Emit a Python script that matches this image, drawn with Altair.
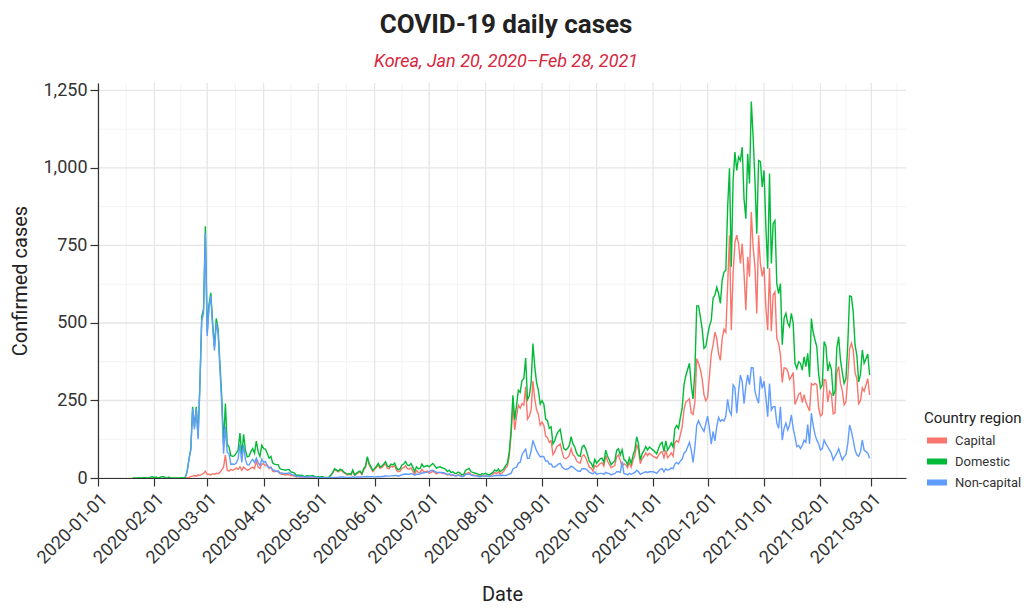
import altair as alt
import pandas as pd

TITLE = "COVID-19 daily cases"
SUBTITLE = "Korea, Jan 20, 2020\u2013Feb 28, 2021"
SERIES = ["Capital", "Domestic", "Non-capital"]
COLORS = ["#F8766D", "#00BA38", "#619CFF"]
FONT = "Roboto, sans-serif"

# daily confirmed cases, each chunk starts at the given date
DOMESTIC = {
    "2020-01-20": [0, 0, 0, 0, 1, 0, 1, 1, 0, 0, 3, 4],
    "2020-02-01": [1, 3, 0, 2, 4, 4, 1, 0, 3, 0, 0, 0, 0, 0, 0, 1, 0,
                   3, 22, 62, 95, 230, 165, 230, 135, 305, 520, 545, 812],
    "2020-03-01": [470, 560, 597, 500, 423, 515, 480, 370, 262, 113, 240, 108, 100, 72, 70, 72,
                   80, 90, 145, 75, 141, 90, 68, 70, 85, 95, 80, 119, 85, 70, 106],
    "2020-04-01": [95, 93, 80, 64, 70, 48, 45, 43, 43, 30, 28, 27, 25, 27, 27, 20, 18, 16, 8, 10,
                   8, 9, 6, 5, 8, 6, 7, 8, 5, 3],
    "2020-05-01": [4, 3, 5, 3, 2, 2, 3, 10, 18, 30, 26, 22, 28, 26, 20, 16, 12, 14, 12, 26,
                   10, 15, 20, 22, 14, 30, 38, 69, 47, 36, 25],
    "2020-06-01": [31, 38, 47, 35, 39, 45, 53, 38, 36, 45, 42, 48, 33, 26, 30, 42, 45, 53, 42, 40,
                   47, 35, 21, 36, 30, 31, 45, 36, 38, 40],
    "2020-07-01": [36, 42, 47, 40, 31, 35, 36, 33, 31, 28, 21, 25, 18, 20, 15, 15, 19, 16, 10, 12,
                   25, 28, 31, 20, 18, 16, 15, 12, 10, 14, 13],
    "2020-08-01": [15, 12, 10, 14, 18, 26, 22, 29, 20, 25, 30, 40, 48, 85, 155, 267, 188, 235, 283, 276,
                   315, 320, 387, 253, 264, 307, 434, 359, 308, 283, 238],
    "2020-09-01": [250, 238, 190, 185, 160, 165, 110, 120, 140, 150, 157, 121, 95, 90, 95, 105, 133, 110, 100, 80,
                   72, 70, 100, 105, 94, 75, 53, 48, 35, 60],
    "2020-10-01": [48, 55, 62, 64, 50, 90, 70, 58, 43, 50, 55, 89, 94, 74, 91, 60, 55, 43, 65, 47,
                   73, 90, 133, 110, 58, 78, 88, 101, 90, 100, 95],
    "2020-11-01": [90, 85, 78, 95, 110, 115, 85, 120, 90, 100, 113, 100, 160, 170, 160, 195, 225, 300, 330, 350,
                   370, 300, 255, 345, 555, 555, 520, 480, 418, 424],
    "2020-12-01": [460, 490, 509, 580, 590, 615, 595, 563, 638, 664, 670, 874, 999, 681, 960, 1051, 992, 1035, 1024, 1067,
                   900, 836, 1046, 950, 1214, 1100, 960, 788, 1024, 1020, 939],
    "2021-01-01": [992, 810, 675, 982, 692, 820, 830, 627, 595, 627, 430, 515, 531, 500, 488, 531, 500, 370, 353, 375,
                   370, 348, 391, 359, 402, 326, 514, 470, 445, 423, 335],
    "2021-02-01": [290, 300, 440, 425, 345, 370, 350, 265, 280, 420, 455, 380, 340, 305, 320, 430, 587, 585, 535, 430,
                   395, 310, 335, 413, 370, 385, 400, 332],
}

CAPITAL = {
    "2020-02-18": [0, 1, 2, 5, 6, 8, 6, 10, 8, 12, 15, 22],
    "2020-03-01": [12, 12, 10, 14, 12, 15, 14, 18, 26, 35, 74, 25, 22, 28, 25, 28,
                   32, 28, 36, 25, 35, 30, 25, 28, 32, 35, 30, 55, 35, 30, 45],
    "2020-04-01": [45, 40, 42, 30, 35, 22, 20, 22, 20, 14, 12, 12, 10, 12, 10, 8, 8, 6, 4, 5,
                   3, 4, 3, 2, 4, 3, 3, 4, 2, 1],
    "2020-05-01": [3, 2, 4, 2, 1, 1, 2, 9, 16, 28, 24, 20, 25, 23, 17, 14, 10, 12, 10, 22,
                   8, 12, 17, 19, 11, 26, 34, 64, 43, 32, 21],
    "2020-06-01": [28, 34, 42, 31, 34, 40, 46, 32, 30, 38, 35, 40, 25, 20, 22, 32, 33, 40, 30, 28,
                   33, 22, 12, 24, 18, 18, 28, 20, 20, 22],
    "2020-07-01": [15, 18, 22, 18, 13, 17, 18, 16, 14, 13, 10, 12, 8, 10, 8, 8, 10, 9, 5, 6,
                   14, 16, 18, 11, 10, 9, 8, 7, 6, 8, 7],
    "2020-08-01": [8, 6, 5, 8, 12, 18, 14, 20, 12, 16, 22, 32, 38, 72, 140, 238, 155, 200, 235, 225,
                   240, 235, 294, 190, 200, 220, 313, 255, 220, 205, 170],
    "2020-09-01": [180, 170, 135, 130, 115, 120, 75, 85, 100, 105, 110, 85, 65, 62, 66, 73, 95, 75, 70, 55,
                   50, 48, 70, 75, 65, 50, 35, 32, 22, 40],
    "2020-10-01": [36, 41, 47, 49, 38, 72, 54, 44, 33, 37, 41, 69, 74, 56, 38, 46, 42, 33, 50, 35,
                   58, 72, 108, 90, 46, 63, 70, 81, 72, 80, 75],
    "2020-11-01": [70, 67, 63, 73, 82, 85, 65, 90, 65, 72, 81, 70, 115, 120, 115, 140, 165, 220, 245, 250,
                   255, 210, 205, 245, 385, 370, 350, 320, 268, 249],
    "2020-12-01": [260, 330, 400, 430, 470, 450, 400, 380, 450, 480, 470, 620, 783, 477, 660, 760, 783, 756, 692, 756,
                   660, 541, 713, 649, 858, 745, 680, 531, 783, 692, 650],
    "2021-01-01": [680, 550, 477, 677, 473, 590, 600, 450, 435, 397, 308, 355, 354, 345, 318, 327, 340, 237, 252, 270,
                   275, 243, 269, 244, 230, 216, 305, 300, 305, 301, 225],
    "2021-02-01": [200, 205, 318, 315, 245, 280, 270, 207, 210, 340, 360, 305, 282, 236, 245, 320, 416, 435, 413, 340,
                   320, 240, 250, 291, 280, 300, 320, 268],
}

NON_CAPITAL = {
    "2020-02-18": [3, 21, 60, 90, 224, 157, 224, 125, 297, 508, 530, 790],
    "2020-03-01": [458, 548, 587, 486, 411, 500, 466, 352, 236, 78, 166, 83, 78, 44, 45, 44,
                   48, 62, 109, 50, 106, 60, 43, 42, 53, 60, 50, 64, 50, 40, 61],
    "2020-04-01": [50, 53, 38, 34, 35, 26, 25, 21, 23, 16, 16, 15, 15, 15, 17, 12, 10, 10, 4, 5,
                   5, 5, 3, 3, 4, 3, 4, 4, 3, 2],
    "2020-05-01": [1, 1, 1, 1, 1, 1, 1, 1, 2, 2, 2, 2, 3, 3, 3, 2, 2, 2, 2, 4,
                   2, 3, 3, 3, 3, 4, 4, 5, 4, 4, 4],
    "2020-06-01": [3, 4, 5, 4, 5, 5, 7, 6, 6, 7, 7, 8, 8, 6, 8, 10, 12, 13, 12, 12,
                   14, 13, 9, 12, 12, 13, 17, 16, 18, 18],
    "2020-07-01": [21, 24, 25, 22, 18, 18, 18, 17, 17, 15, 11, 13, 10, 10, 7, 7, 9, 7, 5, 6,
                   11, 12, 13, 9, 8, 7, 7, 5, 4, 6, 6],
    "2020-08-01": [7, 6, 5, 6, 6, 8, 8, 9, 8, 9, 8, 8, 10, 13, 15, 29, 33, 35, 48, 51,
                   75, 85, 93, 63, 64, 87, 121, 104, 88, 78, 68],
    "2020-09-01": [70, 68, 55, 55, 45, 45, 35, 35, 40, 45, 47, 36, 30, 28, 29, 32, 38, 35, 30, 25,
                   22, 22, 30, 30, 29, 25, 18, 16, 13, 20],
    "2020-10-01": [12, 14, 15, 15, 12, 18, 16, 14, 10, 13, 14, 20, 20, 18, 53, 14, 13, 10, 15, 12,
                   15, 18, 25, 20, 12, 15, 18, 20, 18, 20, 20],
    "2020-11-01": [20, 18, 15, 22, 28, 30, 20, 30, 25, 28, 32, 30, 45, 50, 45, 55, 60, 80, 85, 100,
                   115, 90, 50, 100, 170, 185, 170, 160, 150, 175],
    "2020-12-01": [200, 160, 109, 150, 120, 165, 195, 183, 188, 184, 200, 254, 216, 204, 300, 291, 209, 279, 332, 311,
                   240, 295, 333, 301, 356, 355, 280, 257, 241, 328, 289],
    "2021-01-01": [312, 260, 198, 305, 219, 230, 230, 177, 160, 230, 122, 160, 177, 155, 170, 204, 160, 133, 101, 105,
                   95, 105, 122, 115, 172, 110, 209, 170, 140, 122, 110],
    "2021-02-01": [90, 95, 122, 110, 100, 90, 80, 58, 70, 80, 95, 75, 58, 69, 75, 110, 171, 150, 122, 90,
                   75, 70, 85, 122, 90, 85, 80, 64],
}

X_TICKS = ["2020-01-01", "2020-02-01", "2020-03-01", "2020-04-01", "2020-05-01", "2020-06-01",
           "2020-07-01", "2020-08-01", "2020-09-01", "2020-10-01", "2020-11-01", "2020-12-01",
           "2021-01-01", "2021-02-01", "2021-03-01"]
X_DOMAIN = ["2020-01-01", "2021-03-20"]
Y_TICKS = [0, 250, 500, 750, 1000, 1250]
Y_MINOR = [125, 375, 625, 875, 1125]
Y_MAX = 1274


def ms(s):
    return int(pd.Timestamp(s, tz="UTC").value // 10**6)


rows = []
for name, chunks in (("Capital", CAPITAL), ("Domestic", DOMESTIC), ("Non-capital", NON_CAPITAL)):
    for start, vals in chunks.items():
        for i, v in enumerate(vals):
            d = pd.Timestamp(start) + pd.Timedelta(days=i)
            rows.append({"date": d.strftime("%Y-%m-%d"), "cases": v, "region": name})
df = pd.DataFrame(rows)

# minor grid: halfway between month breaks
tk = [pd.Timestamp(t, tz="UTC") for t in X_TICKS]
minor = [(a + (b - a) / 2) for a, b in zip(tk[:-1], tk[1:])]
minor.append(tk[-1] + (tk[-1] - tk[-2]) / 2)
x_minor = pd.DataFrame({"date": [m.strftime("%Y-%m-%dT%H:%M:%SZ") for m in minor]})
x_major = pd.DataFrame({"date": X_TICKS})
y_major = pd.DataFrame({"cases": Y_TICKS})
y_minor = pd.DataFrame({"cases": Y_MINOR})

XS = alt.Scale(type="utc", domain=[ms(X_DOMAIN[0]), ms(X_DOMAIN[1])], nice=False)
YS = alt.Scale(domain=[0, Y_MAX], nice=False, zero=True)

XAXIS = alt.Axis(values=[ms(t) for t in X_TICKS], format="%Y-%m-%d", labelAngle=315,
                 labelAlign="right", labelBaseline="top", labelPadding=4, labelFlush=False,
                 labelOverlap=False, tickSize=8, grid=False, domainColor="#333333",
                 tickColor="#333333", domainWidth=1.2, tickWidth=1.2, labelColor="#333333",
                 labelFontSize=18, labelFont=FONT, titleFont=FONT, titleFontSize=20,
                 titleFontWeight="normal", titleColor="#222222", titlePadding=18, zindex=1)
YAXIS = alt.Axis(values=Y_TICKS, format=",d", tickSize=8, labelPadding=3, grid=False,
                 domainColor="#333333", tickColor="#333333", domainWidth=1.2, tickWidth=1.2,
                 labelColor="#333333", labelFontSize=18, labelFont=FONT, titleFont=FONT,
                 titleFontSize=20, titleFontWeight="normal", titleColor="#222222",
                 titlePadding=12, zindex=1)

X_ENC = alt.X("date:T", scale=XS, axis=XAXIS, title="Date")
Y_ENC = alt.Y("cases:Q", scale=YS, axis=YAXIS, title="Confirmed cases")

xmin_layer = alt.Chart(x_minor).mark_rule(color="#f3f3f3", strokeWidth=1).encode(x=X_ENC)
ymin_layer = alt.Chart(y_minor).mark_rule(color="#f3f3f3", strokeWidth=1).encode(y=Y_ENC)
xmaj_layer = alt.Chart(x_major).mark_rule(color="#e6e6e6", strokeWidth=1.3).encode(x=X_ENC)
ymaj_layer = alt.Chart(y_major).mark_rule(color="#e6e6e6", strokeWidth=1.3).encode(y=Y_ENC)

LEGEND = alt.Legend(title="Country region", orient="none", legendX=826, legendY=328,
                    symbolType="stroke", symbolSize=400, symbolStrokeWidth=6, clipHeight=17,
                    titleFont=FONT, titleFontSize=15, titleFontWeight="normal", titleColor="#222222",
                    titlePadding=6, labelFont=FONT, labelFontSize=13, labelColor="#333333",
                    labelOffset=5, rowPadding=4, padding=0)

COLOR = alt.Color("region:N", scale=alt.Scale(domain=SERIES, range=COLORS), legend=LEGEND)

line_layers = [
    alt.Chart(df).transform_filter(alt.datum.region == name)
    .mark_line(strokeWidth=1.4, interpolate="linear")
    .encode(x=X_ENC, y=Y_ENC, color=COLOR)
    for name in SERIES
]

chart = alt.layer(xmin_layer, ymin_layer, xmaj_layer, ymaj_layer, *line_layers).properties(
    width=808,
    height=395,
    padding={"left": 90, "top": 75, "right": 119, "bottom": 129},
    autosize=alt.AutoSizeParams(type="none"),
    background="white",
    title=alt.TitleParams(text=TITLE, subtitle=SUBTITLE, font=FONT, fontSize=26, fontWeight="bold",
                          color="#222222", subtitleFont=FONT, subtitleFontSize=18,
                          subtitleFontStyle="italic", subtitleColor="#d7263d",
                          anchor="middle", offset=10, subtitlePadding=15, dx=4),
).configure_view(stroke=None)

chart.save("out.html", embed_options={"renderer": "svg", "actions": False})
